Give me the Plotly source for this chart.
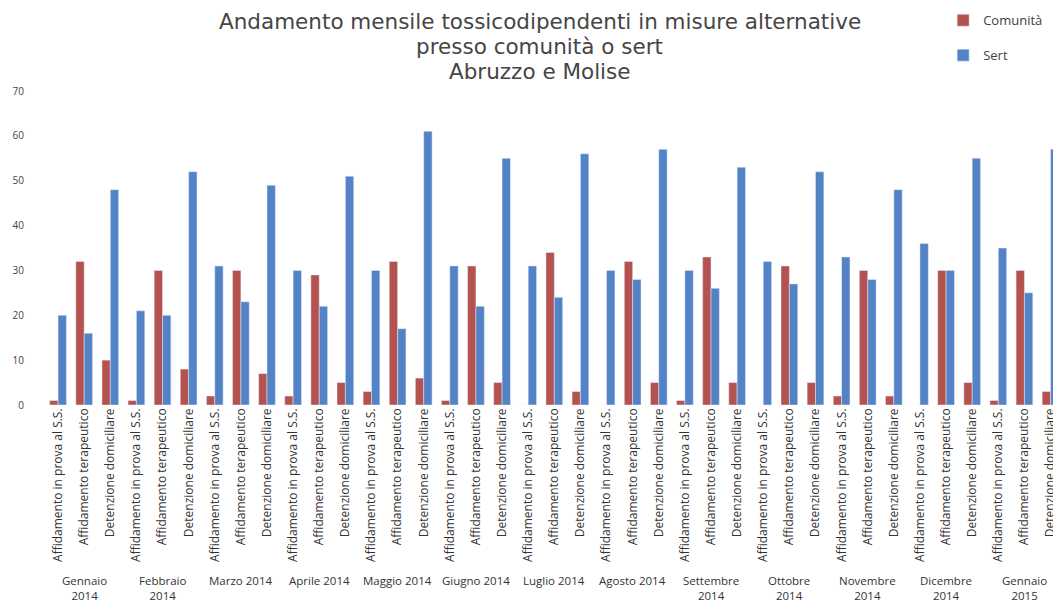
import plotly.graph_objects as go

months = ["Gennaio<br>2014", "Febbraio<br>2014", "Marzo 2014", "Aprile 2014", "Maggio 2014",
          "Giugno 2014", "Luglio 2014", "Agosto 2014", "Settembre<br>2014", "Ottobre<br>2014",
          "Novembre<br>2014", "Dicembre<br>2014", "Gennaio<br>2015"]
measures = ["Affidamento in prova al S.S.", "Affidamento terapeutico", "Detenzione domiciliare"]

comunita = [1, 32, 10,  1, 30, 8,  2, 30, 7,  2, 29, 5,  3, 32, 6,  1, 31, 5,  0, 34, 3,
            0, 32, 5,  1, 33, 5,  0, 31, 5,  2, 30, 2,  0, 30, 5,  1, 30, 3]
sert = [20, 16, 48,  21, 20, 52,  31, 23, 49,  30, 22, 51,  30, 17, 61,  31, 22, 55,  31, 24, 56,
        30, 28, 57,  30, 26, 53,  32, 27, 52,  33, 28, 48,  36, 30, 55,  35, 25, 57]

title_lines = ["Andamento mensile tossicodipendenti in misure alternative",
               "presso comunità o sert", "Abruzzo e Molise"]

labels = [m for _ in months for m in measures]
xs = list(range(len(labels)))

font = "'Open Sans', Lato, sans-serif"

fig = go.Figure()
fig.add_trace(go.Bar(x=xs, y=comunita, name="Comunità", marker_color="#B4524F",
                     legendgroup="a"))
fig.add_trace(go.Bar(x=xs, y=sert, name="Sert", marker_color="#5482C6",
                     legendgroup="b"))

for i, m in enumerate(months):
    fig.add_annotation(x=i * len(measures) + 1, y=0, xref="x", yref="paper",
                       yshift=-166, yanchor="top", text=m, showarrow=False,
                       font=dict(size=11.5, color="#333333", family=font))

for k, t in enumerate(title_lines):
    fig.add_annotation(x=0.487, y=1, xref="paper", yref="paper", xanchor="center",
                       yanchor="middle", yshift=70 - 25 * k, text=t, showarrow=False,
                       font=dict(size=21.5, color="#454545", family="'DejaVu Sans', sans-serif"))

fig.update_layout(
    width=1061, height=602,
    paper_bgcolor="white", plot_bgcolor="white",
    margin=dict(l=37, r=8, t=83, b=205, autoexpand=False),
    barmode="group", bargap=0.36, bargroupgap=0,
    legend=dict(x=0.884, xanchor="left", y=1.273, yanchor="top",
                font=dict(size=13, color="#404040", family=font),
                tracegroupgap=15, traceorder="grouped", bgcolor="rgba(0,0,0,0)",
                itemwidth=30),
    showlegend=True,
)
fig.update_xaxes(tickmode="array", tickvals=xs, ticktext=labels, tickangle=-90,
                 range=[-0.5, 38.4], showgrid=False, showline=False, zeroline=False,
                 ticks="", tickfont=dict(size=12, color="#333333", family=font))
fig.update_yaxes(range=[0, 70], tickvals=[0, 10, 20, 30, 40, 50, 60, 70], showgrid=False,
                 zeroline=False, showline=False, ticks="", ticklabelstandoff=20,
                 tickfont=dict(size=10, color="#444444", family=font))

fig.write_html("out.html")
